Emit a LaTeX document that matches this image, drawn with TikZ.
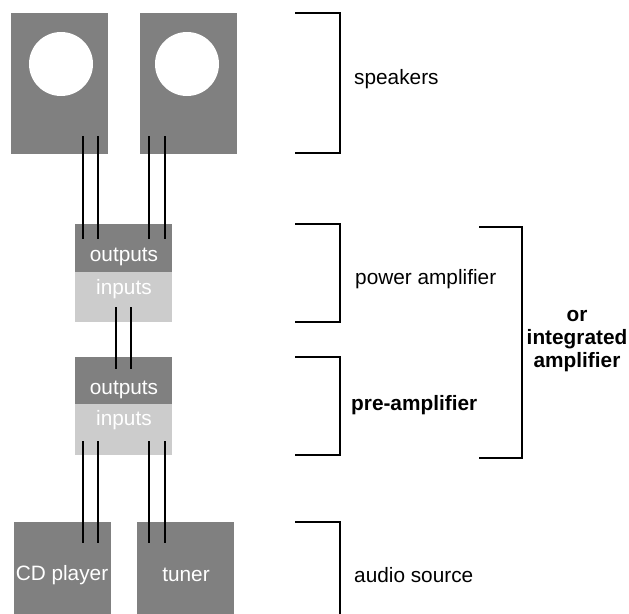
\documentclass[tikz,border=0pt]{standalone}
\usepackage{fontspec}
\setmainfont{Liberation Sans}
\begin{document}
\begin{tikzpicture}[x=1pt,y=-1pt,
  every node/.style={font=\fontsize{20.8}{23}\selectfont, inner sep=0pt},
  dark/.style={fill=black!50, draw=none, anchor=north west},
  light/.style={fill=black!20, draw=none, anchor=north west},
  hole/.style={circle, fill=white, draw=none, minimum size=64pt},
  wire/.style={line width=2.2pt, black},
  brk/.style={line width=1.3pt, black},
  wtext/.style={text=white},
  label/.style={anchor=west}]
\useasboundingbox (0,0) rectangle (629,613);
% speakers
\node[dark, minimum width=97pt, minimum height=141pt] (sp1) at (11,13) {};
\node[dark, minimum width=97pt, minimum height=141pt] (sp2) at (140,13) {};
\node[hole] (c1) at (61,64) {};
\node[hole] (c2) at (187,64) {};
% power amplifier
\node[dark, minimum width=97pt, minimum height=48pt] (pout) at (75,224) {};
\node[light, minimum width=97pt, minimum height=50pt] (pin) at (75,272) {};
% pre-amplifier
\node[dark, minimum width=97pt, minimum height=47pt] (qout) at (75,357) {};
\node[light, minimum width=97pt, minimum height=51pt] (qin) at (75,404) {};
% sources
\node[dark, minimum width=97pt, minimum height=92pt] (cd) at (14,522) {};
\node[dark, minimum width=97pt, minimum height=92pt] (tu) at (137,522) {};
% wire end points
\foreach \x in {83,98,149,165}{
  \coordinate (sa\x) at (\x,136);
  \coordinate (sb\x) at (\x,239);
  \coordinate (qa\x) at (\x,441);
  \coordinate (qb\x) at (\x,543);
}
\coordinate (ma116) at (116,307);
\coordinate (mb116) at (116,369);
\coordinate (ma131) at (131,307);
\coordinate (mb131) at (131,369);
\foreach \x in {83,98,149,165}{
  \draw[wire] (sa\x) -- (sb\x);
  \draw[wire] (qa\x) -- (qb\x);
}
\draw[wire] (ma116) -- (mb116);
\draw[wire] (ma131) -- (mb131);
% box texts
\node[wtext] (t1) at (124,257) {outputs};
\node[wtext] (t2) at (124,289) {inputs};
\node[wtext] (t3) at (124,390) {outputs};
\node[wtext] (t4) at (124,420) {inputs};
\node[wtext] (t5) at (62,575) {CD player};
\node[wtext] (t6) at (186,575) {tuner};
% brackets
\draw[brk] (295,13) -- (340,13) -- (340,153) -- (295,153);
\draw[brk] (295,224) -- (340,224) -- (340,322) -- (295,322);
\draw[brk] (295,357) -- (340,357) -- (340,455) -- (295,455);
\draw[brk] (479,227) -- (522,227) -- (522,458) -- (479,458);
\draw[brk] (295,522) -- (340,522) -- (340,615);
% labels
\node[label] (l1) at (354,79) {speakers};
\node[label] (l2) at (355,279) {power amplifier};
\node[label, font=\fontsize{20.8}{23}\selectfont\bfseries] (l3) at (351,405) {pre-amplifier};
\node[align=center, font=\fontsize{20.8}{23}\selectfont\bfseries] (l4) at (577,341) {or\\integrated\\amplifier};
\node[label] (l5) at (354,575) {audio source};
\end{tikzpicture}
\end{document}
